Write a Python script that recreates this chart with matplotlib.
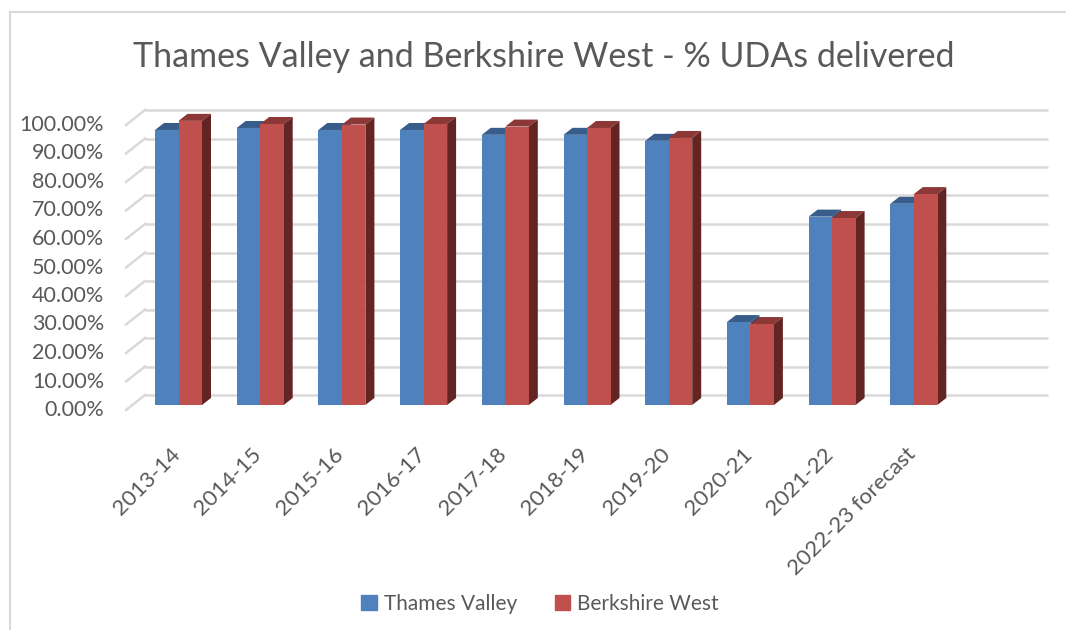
import matplotlib
matplotlib.use("Agg")
import matplotlib.pyplot as plt
from matplotlib.patches import Polygon, Patch
from matplotlib.lines import Line2D
import numpy as np

plt.rcParams['font.family'] = ['Lato', 'DejaVu Sans']

years = ['2013-14', '2014-15', '2015-16', '2016-17', '2017-18', '2018-19',
         '2019-20', '2020-21', '2021-22', '2022-23 forecast']
thames_valley = [0.965, 0.972, 0.965, 0.965, 0.948, 0.948, 0.927, 0.291, 0.661, 0.706]
berkshire_west = [0.997, 0.986, 0.984, 0.986, 0.977, 0.972, 0.937, 0.284, 0.656, 0.740]
ticks = np.arange(0, 1.01, 0.1)

W, H = 1066, 630
grey = '#595959'
grid_c = '#D9D9D9'

# pixel layout of the front plane of the bars
x0_px, step_px = 178.5, 81.7
y0_px, unit_px = 405, 285
L, R, T, B = 115, 1050, 100, 420

fig = plt.figure(figsize=(W / 100, H / 100), dpi=100)
ax = fig.add_axes([L / W, 1 - B / H, (R - L) / W, (B - T) / H])
ax.set_xlim((L - x0_px) / step_px, (R - x0_px) / step_px)
ax.set_ylim((y0_px - B) / unit_px, (y0_px - T) / unit_px)
ax.axis('off')


def xd(px):
    return (px - x0_px) / step_px


def dxd(px):
    return px / step_px


def dyd(px):
    return px / unit_px


# back wall gridlines and side wall lines
for v in ticks:
    ax.plot([xd(145), xd(1048)], [v + dyd(10), v + dyd(10)],
            color=grid_c, lw=1.8, zorder=1, solid_capstyle='butt')
    ax.plot([xd(126), xd(145)], [v - dyd(5), v + dyd(10)],
            color=grid_c, lw=1.8, zorder=1)
    ax.text(xd(104), v - dyd(5), '{:.2f}%'.format(v * 100),
            ha='right', va='center', fontsize=15.5, color=grey)

x = np.arange(len(years))
w = 23.5 / step_px
ddx, ddy = dxd(9), dyd(7)


def draw_3d(bars, top, side, z):
    for b in bars:
        bx0, bx1, h = b.get_x(), b.get_x() + b.get_width(), b.get_height()
        ax.add_patch(Polygon([(bx0, h), (bx1, h), (bx1 + ddx, h + ddy), (bx0 + ddx, h + ddy)],
                             closed=True, facecolor=top, edgecolor='none', zorder=z))
        ax.add_patch(Polygon([(bx1, 0), (bx1 + ddx, ddy), (bx1 + ddx, h + ddy), (bx1, h)],
                             closed=True, facecolor=side, edgecolor='none', zorder=z))


b1 = ax.bar(x - w / 2, thames_valley, w, color='#4F81BD', zorder=3)
draw_3d(b1, '#385D8A', '#2C4D75', 2.9)
b2 = ax.bar(x + w / 2, berkshire_west, w, color='#C0504D', zorder=5)
draw_3d(b2, '#8C3836', '#632523', 4.9)

for i, lab in enumerate(years):
    ax.text(i - 0.02, dyd(-46), lab, rotation=45, rotation_mode='anchor',
            ha='right', va='center', fontsize=16, color=grey)

fig.text(544 / W, 1 - 57 / H, 'Thames Valley and Berkshire West - % UDAs delivered',
         ha='center', va='center', fontsize=24.5, color=grey)

handles = [Patch(color='#4F81BD', label='Thames Valley'),
           Patch(color='#C0504D', label='Berkshire West')]
fig.legend(handles=handles, loc='center', bbox_to_anchor=(540 / W, 1 - 604 / H), ncol=2,
           frameon=False, fontsize=15, labelcolor=grey, handlelength=0.75, handleheight=0.75,
           handletextpad=0.35, columnspacing=1.8)

# chart border
fig.add_artist(Line2D([10 / W, 1], [1 - 12 / H, 1 - 12 / H], color=grid_c, lw=1.5,
                      transform=fig.transFigure))
fig.add_artist(Line2D([10 / W, 10 / W], [0, 1 - 12 / H], color=grid_c, lw=1.5,
                      transform=fig.transFigure))

fig.savefig('out.png', dpi=100)
